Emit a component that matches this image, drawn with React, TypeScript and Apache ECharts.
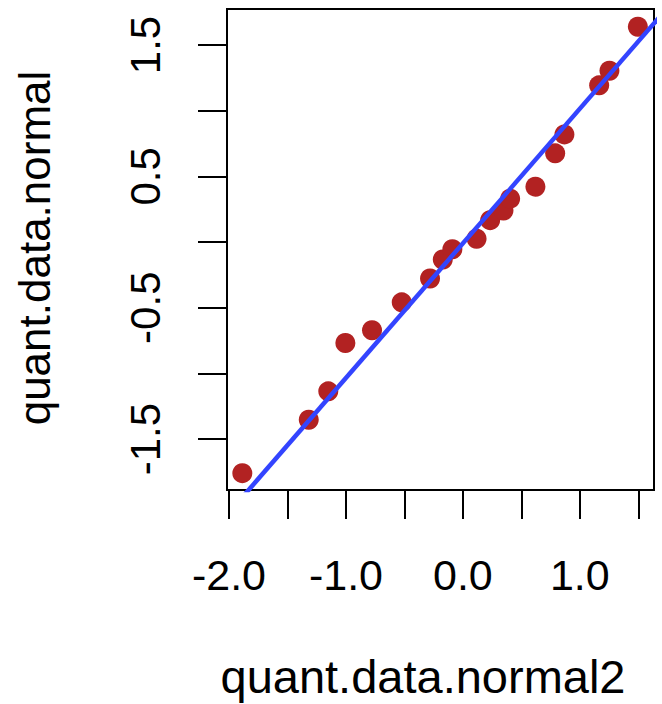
import React, { useEffect, useRef } from "react";
import * as echarts from "echarts";

// Sample quantiles
const xQuant = [-1.886, -1.318, -1.151, -1.005, -0.777, -0.523, -0.281, -0.172, -0.09, 0.117, 0.233, 0.347, 0.404, 0.62, 0.789, 0.868, 1.165, 1.253, 1.496];
const yQuant = [-1.76, -1.353, -1.137, -0.769, -0.672, -0.459, -0.278, -0.133, -0.055, 0.025, 0.166, 0.239, 0.33, 0.421, 0.675, 0.819, 1.193, 1.304, 1.639];

// Reference line (intercept, slope)
const lineIntercept = -0.01;
const lineSlope = 1.025;
const lineXRange = [-2.3, 1.9];

const xTicks = [-2.0, -1.5, -1.0, -0.5, 0.0, 0.5, 1.0, 1.5];
const xTickLabels = [-2.0, -1.0, 0.0, 1.0];
const yTicks = [-1.5, -1.0, -0.5, 0.0, 0.5, 1.0, 1.5];
const yTickLabels = [-1.5, -0.5, 0.5, 1.5];

const xTitle = "quant.data.normal2";
const yTitle = "quant.data.normal";

const FONT = "Liberation Sans, Arial, Helvetica, sans-serif";

export default function App() {
  const ref = useRef<HTMLDivElement>(null);
  useEffect(() => {
    document.body.style.margin = "0";
    if (!ref.current) return;
    const chart = echarts.init(ref.current, undefined, { renderer: "svg" });
    const points = xQuant.map((x, i) => [x, yQuant[i]]);
    const linePts = lineXRange.map((x) => [x, lineIntercept + lineSlope * x]);
    chart.setOption({
      animation: false,
      backgroundColor: "#fff",
      grid: {
        left: 227,
        top: 9,
        width: 427,
        height: 481,
        show: true,
        borderColor: "#000",
        borderWidth: 2,
        backgroundColor: "transparent",
      },
      xAxis: {
        type: "value",
        min: -2.017,
        max: 1.634,
        splitLine: { show: false },
        axisLine: { show: false, onZero: false },
        axisTick: {
          show: true,
          inside: false,
          length: 29,
          customValues: xTicks,
          lineStyle: { color: "#000", width: 2 },
        },
        axisLabel: {
          customValues: xTickLabels,
          formatter: (v: number) => v.toFixed(1),
          fontSize: 43,
          fontFamily: FONT,
          color: "#000",
          margin: 63,
        },
      },
      yAxis: {
        type: "value",
        min: -1.888,
        max: 1.774,
        splitLine: { show: false },
        axisLine: { show: false, onZero: false },
        axisTick: {
          show: true,
          inside: false,
          length: 29,
          customValues: yTicks,
          lineStyle: { color: "#000", width: 2 },
        },
        axisLabel: {
          customValues: yTickLabels,
          formatter: (v: number) => v.toFixed(1),
          rotate: 90,
          fontSize: 42,
          fontFamily: FONT,
          color: "#000",
          margin: 61,
        },
      },
      graphic: [
        {
          type: "text",
          x: 423,
          y: 676,
          style: {
            text: xTitle,
            fontSize: 47,
            fontFamily: FONT,
            fill: "#000",
            align: "center",
            verticalAlign: "middle",
          },
        },
        {
          type: "text",
          x: 34,
          y: 248,
          rotation: Math.PI / 2,
          style: {
            text: yTitle,
            fontSize: 44,
            fontFamily: FONT,
            fill: "#000",
            align: "center",
            verticalAlign: "middle",
          },
        },
      ],
      series: [
        {
          type: "scatter",
          data: points,
          symbol: "circle",
          symbolSize: 20,
          itemStyle: { color: "#B22222", opacity: 1 },
          z: 2,
        },
        {
          type: "line",
          data: linePts,
          showSymbol: false,
          clip: true,
          lineStyle: { color: "#3344FF", width: 4.5 },
          z: 3,
        },
      ],
    });
    return () => chart.dispose();
  }, []);
  return <div ref={ref} style={{ width: 662, height: 704 }} />;
}
